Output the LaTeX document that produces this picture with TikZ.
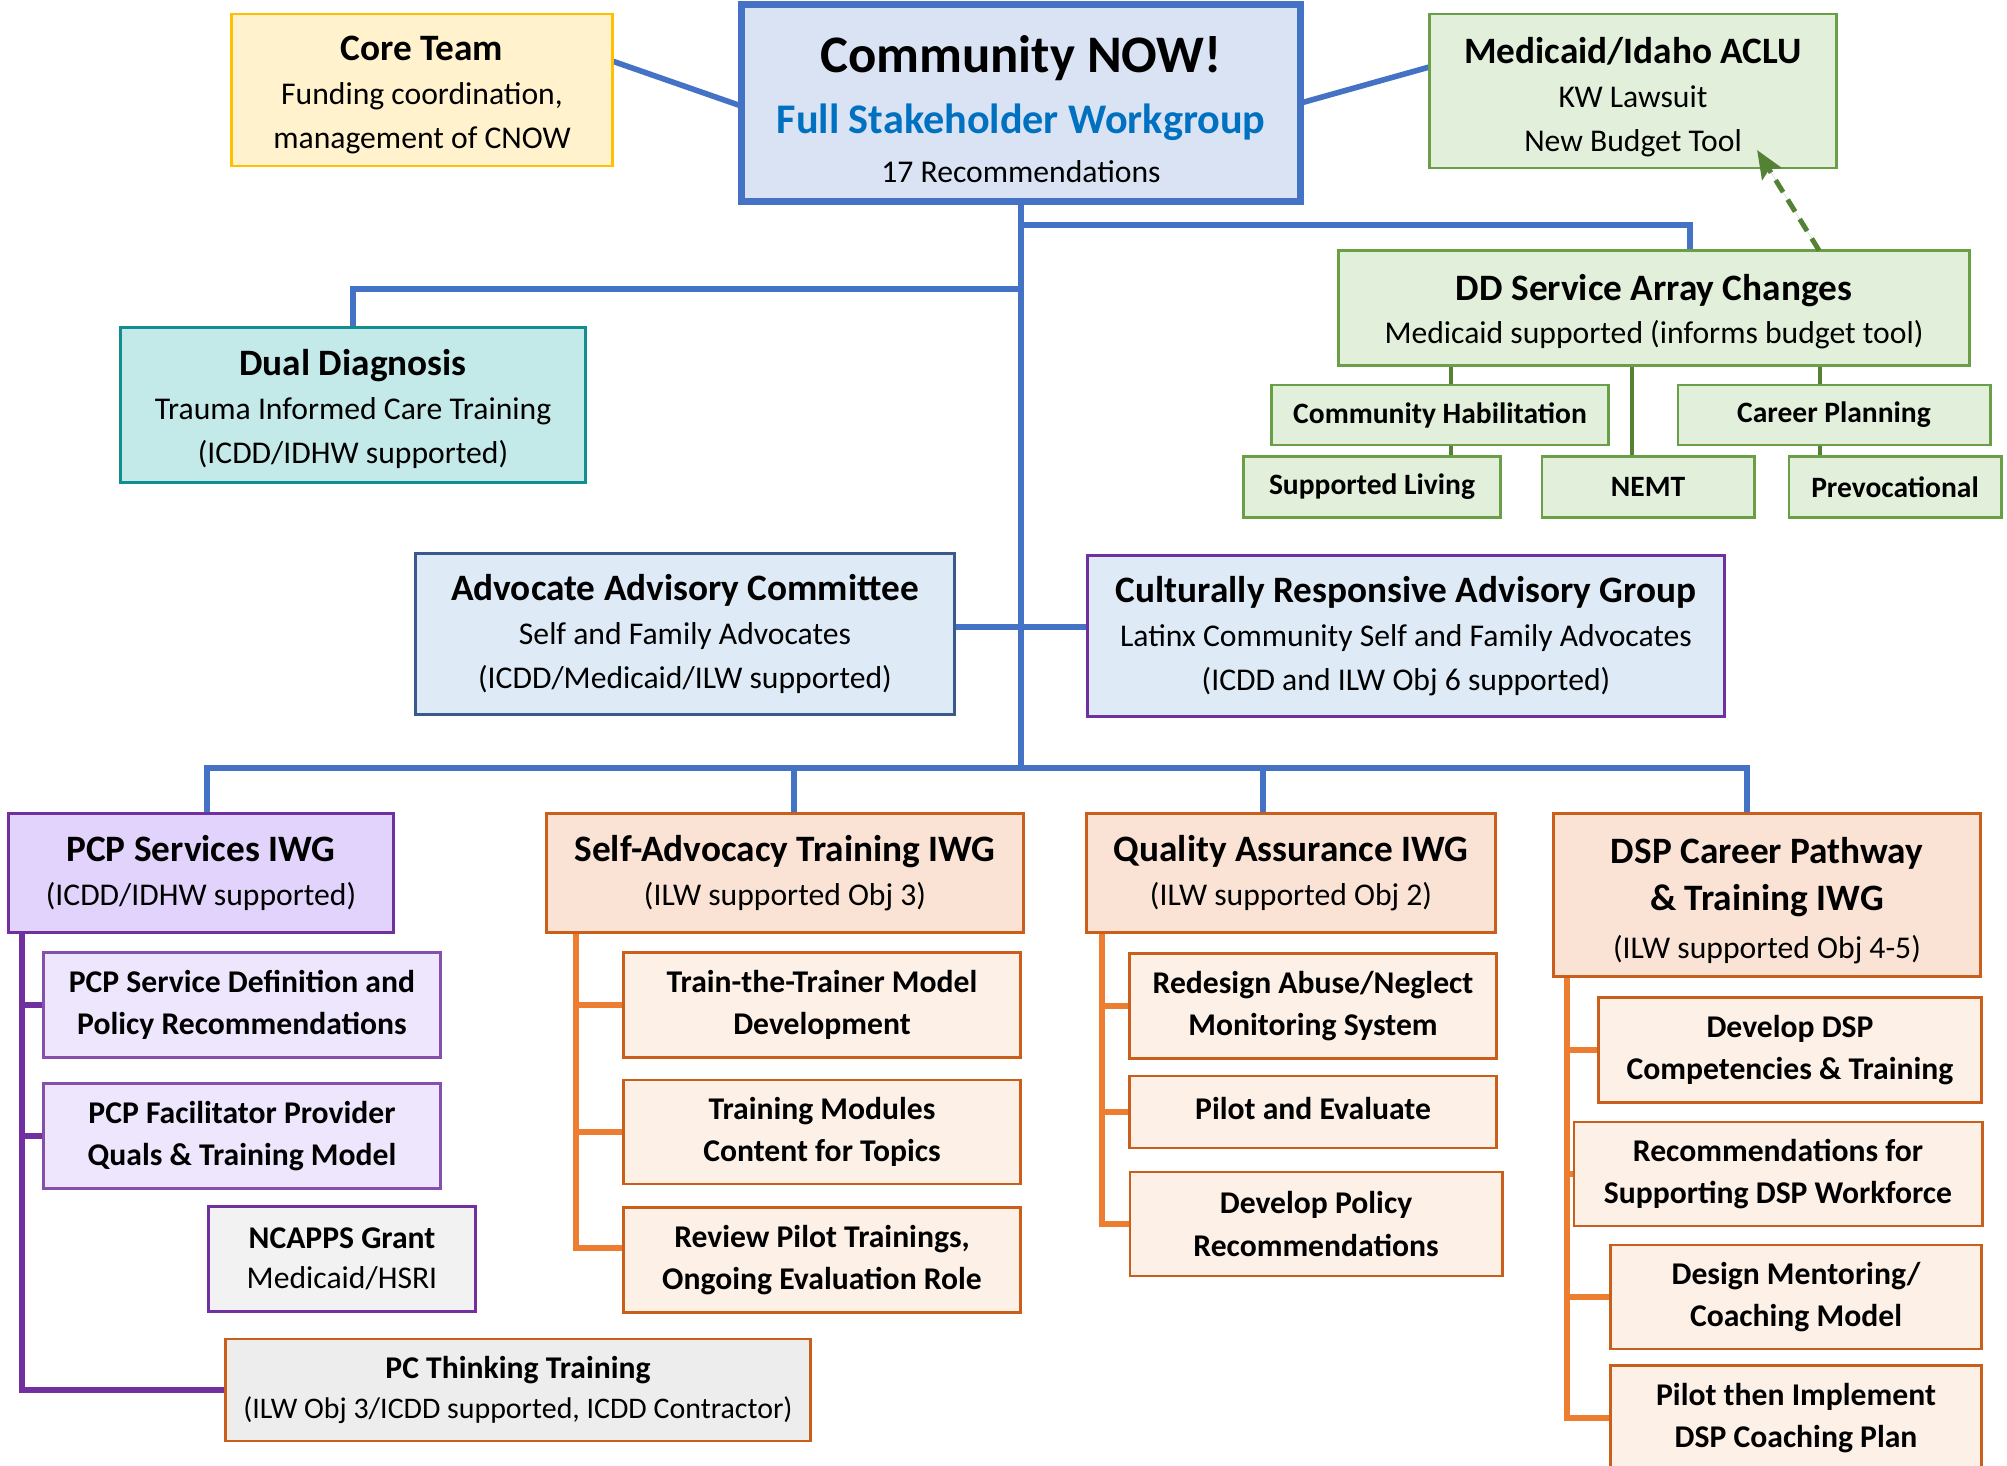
\documentclass[tikz,border=0pt]{standalone}
\usepackage{fontspec}
\setmainfont{Carlito}
\usetikzlibrary{positioning, arrows, arrows.meta, shapes, backgrounds}

\definecolor{coreline}{HTML}{FFC000}
\definecolor{corefill}{HTML}{FFF2CC}
\definecolor{hubline}{HTML}{4472C4}
\definecolor{hubfill}{HTML}{DAE3F3}
\definecolor{hubtext}{HTML}{0070C0}
\definecolor{greenedge}{HTML}{6A9F48}
\definecolor{greenfill}{HTML}{E2EFDA}
\definecolor{greenlink}{HTML}{548235}
\definecolor{tealline}{HTML}{138D8F}
\definecolor{tealfill}{HTML}{C3E9E9}
\definecolor{advline}{HTML}{3A5A8C}
\definecolor{advfill}{HTML}{DEEBF7}
\definecolor{purpline}{HTML}{7030A0}
\definecolor{purpfill}{HTML}{E1D3FB}
\definecolor{purpsub}{HTML}{EEE6FD}
\definecolor{greyfill}{HTML}{F2F2F2}
\definecolor{greyfilltwo}{HTML}{EDEDED}
\definecolor{orangeline}{HTML}{C95F1A}
\definecolor{orangefill}{HTML}{FAE3D4}
\definecolor{orangesub}{HTML}{FDF0E7}
\definecolor{orangelink}{HTML}{ED7D31}

\newcommand{\titlefont}{\fontsize{10.6}{12.5}\selectfont\bfseries}
\newcommand{\boxtitle}[1]{{\titlefont #1}}
\newcommand{\boxstrut}[1]{\rule{0pt}{#1}}

\tikzstyle{orgbox} = [rectangle, draw, align=center, inner sep=0pt, outer sep=0pt, line width=0.8pt, font=\fontsize{9}{12.5}\selectfont]
\tikzstyle{coreteam} = [orgbox, draw=coreline, fill=corefill]
\tikzstyle{hub} = [orgbox, draw=hubline, fill=hubfill, line width=2pt]
\tikzstyle{medicaid} = [orgbox, draw=greenedge, fill=greenfill]
\tikzstyle{service} = [orgbox, draw=greenedge, fill=greenfill, font=\fontsize{8.4}{10}\selectfont\bfseries]
\tikzstyle{dual} = [orgbox, draw=tealline, fill=tealfill]
\tikzstyle{advisory} = [orgbox, draw=advline, fill=advfill]
\tikzstyle{cultural} = [orgbox, draw=purpline, fill=advfill]
\tikzstyle{pcpiwg} = [orgbox, draw=purpline, fill=purpfill]
\tikzstyle{pcptask} = [orgbox, draw=purpline!85, fill=purpsub, font=\fontsize{9}{12}\selectfont\bfseries, execute at begin node=\boxstrut{9pt}]
\tikzstyle{grant} = [orgbox, draw=purpline, fill=greyfill, font=\fontsize{9}{11.3}\selectfont]
\tikzstyle{pcthinking} = [orgbox, draw=orangeline, fill=greyfilltwo, font=\fontsize{9}{11.3}\selectfont]
\tikzstyle{iwg} = [orgbox, draw=orangeline, fill=orangefill]
\tikzstyle{task} = [orgbox, draw=orangeline, fill=orangesub, font=\fontsize{9}{12}\selectfont\bfseries, execute at begin node=\boxstrut{9pt}]
\tikzstyle{blueconn} = [line width=1.6pt, draw=hubline, line cap=rect]
\tikzstyle{greenconn} = [line width=1.4pt, draw=greenlink]
\tikzstyle{purpleconn} = [line width=1.5pt, draw=purpline, line cap=rect]
\tikzstyle{orangeconn} = [line width=1.5pt, draw=orangelink, line cap=rect]
\tikzstyle{budgetarrow} = [line width=1.4pt, draw=greenlink, fill=greenlink, dash pattern=on 4pt off 2.5pt, -{Stealth[length=8pt, width=6.5pt, inset=1.5pt]}]

\begin{document}
\begin{tikzpicture}[x=0.01cm, y=-0.01cm]
\useasboundingbox (0,0) rectangle (2007,1465);

\node (core) [coreteam, minimum width=3.80cm, minimum height=1.52cm] at (422,90) {\boxtitle{\boxstrut{10pt}Core Team}\\Funding coordination,\\management of CNOW};
\node (cnow) [hub, minimum width=5.59cm, minimum height=1.96cm] at (1021,103) {{\fontsize{15}{18}\selectfont\bfseries\boxstrut{14pt}Community NOW!}\\[5pt]{\fontsize{12}{14}\selectfont\bfseries\color{hubtext}Full Stakeholder Workgroup}\\[1.5pt]17 Recommendations};
\node (aclu) [medicaid, minimum width=4.07cm, minimum height=1.54cm] at (1633,91) {\boxtitle{\boxstrut{11pt}Medicaid/Idaho ACLU}\\KW Lawsuit\\New Budget Tool};
\node (ddsa) [medicaid, minimum width=6.30cm, minimum height=1.15cm] at (1654,308) {\boxtitle{\boxstrut{9.5pt}DD Service Array Changes}\\Medicaid supported (informs budget tool)};
\node (dual) [dual, minimum width=4.65cm, minimum height=1.55cm] at (353,405) {\boxtitle{\boxstrut{9.5pt}Dual Diagnosis}\\Trauma Informed Care Training\\(ICDD/IDHW supported)};

\node (comhab) [service, minimum width=3.37cm, minimum height=0.60cm] at (1440,415) {Community Habilitation};
\node (career) [service, minimum width=3.12cm, minimum height=0.60cm] at (1834,415) {Career Planning};
\node (suplive) [service, minimum width=2.57cm, minimum height=0.61cm] at (1372,487) {Supported Living};
\node (nemt) [service, minimum width=2.12cm, minimum height=0.61cm] at (1648,487) {NEMT};
\node (prevoc) [service, minimum width=2.12cm, minimum height=0.61cm] at (1895,487) {Prevocational};

\node (aac) [advisory, minimum width=5.39cm, minimum height=1.61cm] at (685,634) {\boxtitle{Advocate Advisory Committee}\\Self and Family Advocates\\(ICDD/Medicaid/ILW supported)};
\node (crag) [cultural, minimum width=6.37cm, minimum height=1.61cm] at (1406,636) {\boxtitle{Culturally Responsive Advisory Group}\\Latinx Community Self and Family Advocates\\(ICDD and ILW Obj 6 supported)};

\node (pcp) [pcpiwg, minimum width=3.85cm, minimum height=1.19cm] at (201,873) {\boxtitle{PCP Services IWG}\\(ICDD/IDHW supported)};
\node (sat) [iwg, minimum width=4.76cm, minimum height=1.19cm] at (785,873) {\boxtitle{Self-Advocacy Training IWG}\\(ILW supported Obj 3)};
\node (qa) [iwg, minimum width=4.09cm, minimum height=1.19cm] at (1291,873) {\boxtitle{Quality Assurance IWG}\\(ILW supported Obj 2)};
\node (dsp) [iwg, minimum width=4.27cm, minimum height=1.63cm] at (1767,895) {\boxtitle{\boxstrut{10.4pt}DSP Career Pathway}\\[1pt]\boxtitle{\& Training IWG}\\[1pt](ILW supported Obj 4-5)};

\node (pcpdef) [pcptask, minimum width=3.96cm, minimum height=1.05cm] at (242,1005) {PCP Service Definition and\\Policy Recommendations};
\node (pcpfac) [pcptask, minimum width=3.96cm, minimum height=1.05cm] at (242,1136) {PCP Facilitator Provider\\Quals \& Training Model};
\node (ncapps) [grant, minimum width=2.67cm, minimum height=1.05cm] at (342,1259) {\textbf{NCAPPS Grant}\\Medicaid/HSRI};
\node (pcthink) [pcthinking, minimum width=5.84cm, minimum height=1.02cm] at (518,1390) {\textbf{PC Thinking Training}\\{\fontsize{8.5}{11.3}\selectfont(ILW Obj 3/ICDD supported, ICDD Contractor)}};

\node (ttt) [task, minimum width=3.96cm, minimum height=1.05cm] at (822,1005) {Train-the-Trainer Model\\Development};
\node (tmod) [task, minimum width=3.96cm, minimum height=1.04cm] at (822,1132) {Training Modules\\Content for Topics};
\node (rpilot) [task, minimum width=3.96cm, minimum height=1.05cm] at (822,1260) {Review Pilot Trainings,\\Ongoing Evaluation Role};

\node (redesign) [task, minimum width=3.67cm, minimum height=1.05cm] at (1313,1006) {Redesign Abuse/Neglect\\Monitoring System};
\node (pilot) [task, minimum width=3.67cm, minimum height=0.72cm] at (1313,1112) {Pilot and Evaluate\rule[-5pt]{0pt}{5pt}};
\node (devpol) [task, minimum width=3.72cm, minimum height=1.04cm] at (1316,1224) {Develop Policy\\Recommendations};

\node (devdsp) [task, minimum width=3.83cm, minimum height=1.05cm] at (1790,1050) {Develop DSP\\Competencies \& Training};
\node (recdsp) [task, minimum width=4.08cm, minimum height=1.04cm] at (1778,1174) {Recommendations for\\Supporting DSP Workforce};
\node (mentor) [task, minimum width=3.71cm, minimum height=1.04cm] at (1796,1297) {Design Mentoring/\\Coaching Model};
\node (pilotimp) [task, minimum width=3.71cm, minimum height=1.05cm] at (1796,1418) {Pilot then Implement\\DSP Coaching Plan};

\coordinate (busleft) at (207,768);
\coordinate (bussa) at (794,768);
\coordinate (busqa) at (1263,768);
\coordinate (busright) at (1747,768);
\coordinate (ddtap) at (1690,225);
\coordinate (dualtap) at (353,289);
\coordinate (habstem) at (1451,0);
\coordinate (nemtstem) at (1632,0);
\coordinate (careerstem) at (1820,0);
\coordinate (pcpstem) at (22,0);
\coordinate (sastem) at (576,0);
\coordinate (qastem) at (1102,0);
\coordinate (dspstem) at (1567,0);

\begin{scope}[on background layer]
\draw [blueconn] ([yshift=0.29cm]core.east) -- ([yshift=-0.03cm]cnow.west);
\draw [blueconn] (cnow.east) -- ([yshift=0.24cm]aclu.west);
\draw [blueconn] (cnow.south) -- (cnow.south |- busleft);
\draw [blueconn] (cnow.south |- ddtap) -- (ddtap) -- (ddtap |- ddsa.north);
\draw [blueconn] (cnow.south |- dualtap) -| (dual.north);
\draw [blueconn] ([yshift=0.07cm]aac.east) -- ([yshift=0.07cm]aac.east -| crag.west);
\draw [blueconn] (busleft) -- (busright);
\foreach \tap/\grp in {busleft/pcp, bussa/sat, busqa/qa, busright/dsp}
    \draw [blueconn] (\tap) -- (\tap |- \grp.north);

\draw [greenconn] (ddsa.south -| habstem) -- (suplive.north -| habstem);
\draw [greenconn] (ddsa.south -| nemtstem) -- (nemt.north -| nemtstem);
\draw [greenconn] (ddsa.south -| careerstem) -- (prevoc.north -| careerstem);

\draw [purpleconn] (pcp.south -| pcpstem) |- (pcthink.west);
\foreach \n in {pcpdef, pcpfac}
    \draw [purpleconn] (\n.west) -- (\n.west -| pcpstem);

\draw [orangeconn] (sat.south -| sastem) |- ([yshift=0.12cm]rpilot.west);
\foreach \n in {ttt, tmod}
    \draw [orangeconn] (\n.west) -- (\n.west -| sastem);
\draw [orangeconn] (qa.south -| qastem) |- (devpol.west);
\foreach \n in {redesign, pilot}
    \draw [orangeconn] (\n.west) -- (\n.west -| qastem);
\draw [orangeconn] (dsp.south -| dspstem) |- (pilotimp.west);
\foreach \n in {devdsp, recdsp, mentor}
    \draw [orangeconn] (\n.west) -- (\n.west -| dspstem);
\end{scope}

\draw [budgetarrow] ([xshift=1.65cm]ddsa.north) -- ([xshift=1.24cm, yshift=0.18cm]aclu.south);

\end{tikzpicture}
\end{document}
